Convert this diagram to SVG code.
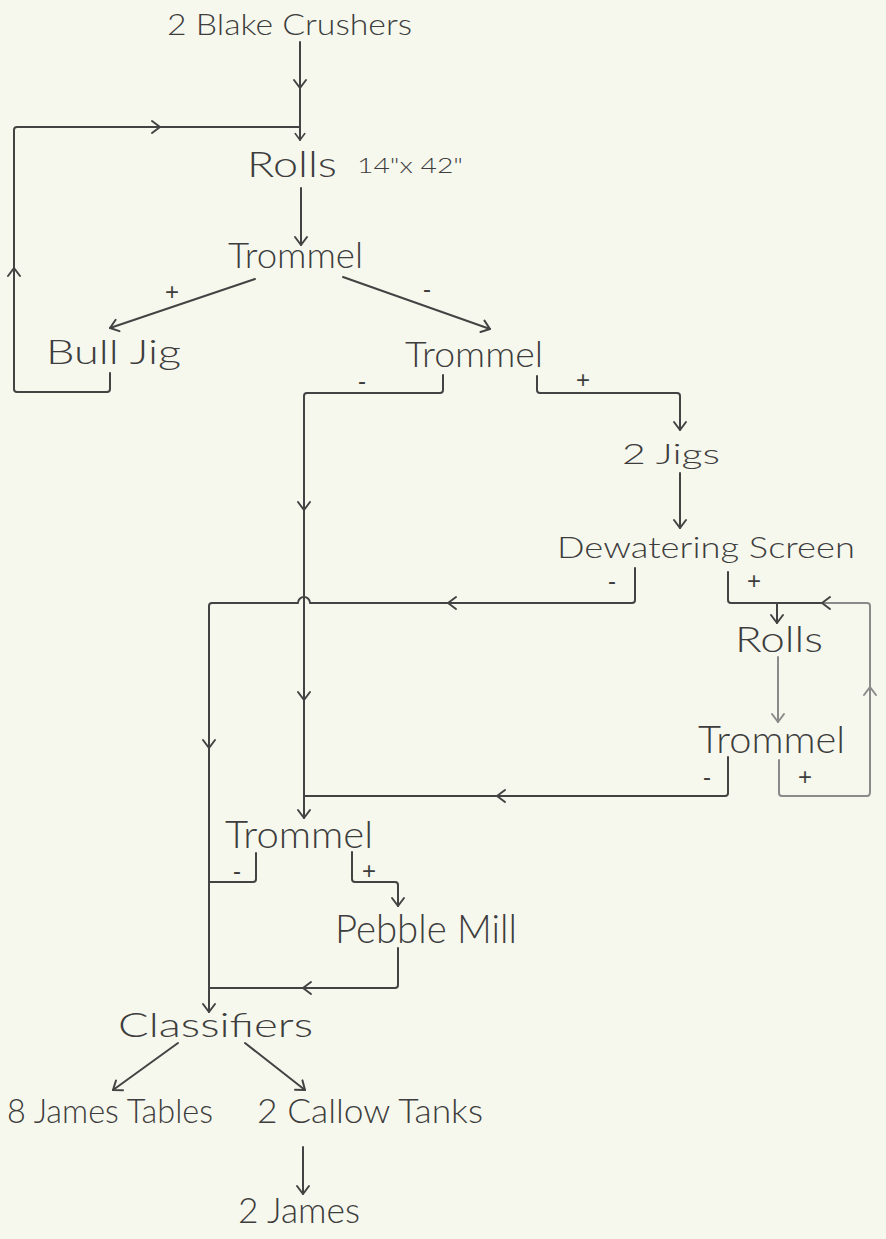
<svg xmlns="http://www.w3.org/2000/svg" xmlns:xlink="http://www.w3.org/1999/xlink" width="886" height="1239" viewBox="0 0 886 1239">
<style>
.lbl{font-family:"Lato","Liberation Sans","DejaVu Sans",sans-serif;font-weight:300;fill:#3d3d3d}
.sg{font-family:"Liberation Sans","DejaVu Sans",sans-serif;font-size:24px;fill:#3d3d3d;text-anchor:middle}
.ln{fill:none;stroke:#434343;stroke-width:2;stroke-linecap:round;stroke-linejoin:round}
.fd{stroke:#8a8a8a}
.hd{fill:none;stroke:#434343;stroke-width:2;stroke-linecap:round;stroke-linejoin:round}
.hf{stroke:#8a8a8a}
</style>
<defs>
<path id="chev" d="M-8,-6 L0,0 L-8,6"/>
</defs>
<rect x="0" y="0" width="886" height="1239" fill="#f7f8ed"/>

<g id="connectors">
  <path class="ln" d="M300,42 V140"/>
  <path class="ln" d="M110,373 V389 Q110,392 107,392 H17 Q14,392 14,389 V130 Q14,127 17,127 H300"/>
  <path class="ln" d="M301,188 V245"/>
  <path class="ln" d="M255,279 L110,328"/>
  <path class="ln" d="M343,277 L490,329"/>
  <path class="ln" d="M443,375 V390 Q443,393 440,393 H307 Q304,393 304,396 V818"/>
  <path class="ln" d="M537,376 V390 Q537,393 540,393 H677 Q680,393 680,396 V430"/>
  <path class="ln" d="M680,473 V528"/>
  <path class="ln" d="M635,568 V600 Q635,603 632,603 H310 A6,6 0 0 0 298,603 H212 Q209,603 209,606 V1012"/>
  <path class="ln" d="M728,572 V600 Q728,603 731,603 H822"/>
  <path class="ln fd" d="M822,603 H867 Q870,603 870,606 V792 Q870,796 867,796 H782 Q779,796 779,793 V760"/>
  <path class="ln" d="M777,603 V623"/>
  <path class="ln fd" d="M778,657 V722"/>
  <path class="ln" d="M728,757 V793 Q728,796 725,796 H304"/>
  <path class="ln" d="M256,853 V879 Q256,882 253,882 H209"/>
  <path class="ln" d="M352,852 V879 Q352,882 355,882 H395 Q398,882 398,885 V906"/>
  <path class="ln" d="M398,948 V985 Q398,988 395,988 H209"/>
  <path class="ln" d="M178,1043 L113,1090"/>
  <path class="ln" d="M245,1043 L305,1090"/>
  <path class="ln" d="M303,1147 V1194"/>

  <use class="hd" xlink:href="#chev" transform="translate(300,88) rotate(90)"/>
  <use class="hd" xlink:href="#chev" transform="translate(300,140) rotate(90) scale(0.8)"/>
  <use class="hd" xlink:href="#chev" transform="translate(14,268) rotate(-90)"/>
  <use class="hd" xlink:href="#chev" transform="translate(160,127)"/>
  <use class="hd" xlink:href="#chev" transform="translate(301,245) rotate(90)"/>
  <use class="hd" xlink:href="#chev" transform="translate(110,328) rotate(161.3)"/>
  <use class="hd" xlink:href="#chev" transform="translate(490,329) rotate(19.5)"/>
  <use class="hd" xlink:href="#chev" transform="translate(304,510) rotate(90)"/>
  <use class="hd" xlink:href="#chev" transform="translate(304,700) rotate(90)"/>
  <use class="hd" xlink:href="#chev" transform="translate(304,818) rotate(90)"/>
  <use class="hd" xlink:href="#chev" transform="translate(680,430) rotate(90)"/>
  <use class="hd" xlink:href="#chev" transform="translate(680,528) rotate(90)"/>
  <use class="hd" xlink:href="#chev" transform="translate(448,603) rotate(180)"/>
  <use class="hd" xlink:href="#chev" transform="translate(209,748) rotate(90)"/>
  <use class="hd" xlink:href="#chev" transform="translate(209,1012) rotate(90)"/>
  <use class="hd" xlink:href="#chev" transform="translate(822,603) rotate(180)"/>
  <use class="hd hf" xlink:href="#chev" transform="translate(870,687) rotate(-90)"/>
  <use class="hd" xlink:href="#chev" transform="translate(777,623) rotate(90)"/>
  <use class="hd hf" xlink:href="#chev" transform="translate(778,722) rotate(90)"/>
  <use class="hd" xlink:href="#chev" transform="translate(497,796) rotate(180)"/>
  <use class="hd" xlink:href="#chev" transform="translate(398,906) rotate(90)"/>
  <use class="hd" xlink:href="#chev" transform="translate(303,988) rotate(180)"/>
  <use class="hd" xlink:href="#chev" transform="translate(113,1090) rotate(144.1)"/>
  <use class="hd" xlink:href="#chev" transform="translate(305,1090) rotate(38.1)"/>
  <use class="hd" xlink:href="#chev" transform="translate(303,1194) rotate(90)"/>

  <text class="sg" x="172" y="300">+</text>
  <text class="sg" x="427" y="297">-</text>
  <text class="sg" x="362" y="389">-</text>
  <text class="sg" x="583" y="388">+</text>
  <text class="sg" x="612" y="589">-</text>
  <text class="sg" x="754" y="589">+</text>
  <text class="sg" x="707" y="785">-</text>
  <text class="sg" x="805" y="785">+</text>
  <text class="sg" x="237" y="879">-</text>
  <text class="sg" x="369" y="879">+</text>
</g>

<g id="crushers"><text class="lbl" x="167" y="35" font-size="30" textLength="245" lengthAdjust="spacingAndGlyphs">2 Blake Crushers</text></g>
<g id="rolls1"><text class="lbl" x="247" y="177" font-size="36" textLength="90" lengthAdjust="spacingAndGlyphs">Rolls</text><text class="lbl" x="357" y="173" font-size="22" textLength="106" lengthAdjust="spacingAndGlyphs">14"x 42"</text></g>
<g id="trommel1"><text class="lbl" x="228" y="268" font-size="36" textLength="135" lengthAdjust="spacingAndGlyphs">Trommel</text></g>
<g id="bulljig"><text class="lbl" x="46" y="364" font-size="34" textLength="135" lengthAdjust="spacingAndGlyphs">Bull Jig</text></g>
<g id="trommel2"><text class="lbl" x="405" y="367" font-size="36" textLength="138" lengthAdjust="spacingAndGlyphs">Trommel</text></g>
<g id="jigs"><text class="lbl" x="622" y="464" font-size="28" textLength="98" lengthAdjust="spacingAndGlyphs">2 Jigs</text></g>
<g id="dewatering"><text class="lbl" x="557" y="558" font-size="30" textLength="298" lengthAdjust="spacingAndGlyphs">Dewatering Screen</text></g>
<g id="rolls2"><text class="lbl" x="735" y="652" font-size="36" textLength="88" lengthAdjust="spacingAndGlyphs">Rolls</text></g>
<g id="trommel4"><text class="lbl" x="698" y="753" font-size="38" textLength="147" lengthAdjust="spacingAndGlyphs">Trommel</text></g>
<g id="trommel3"><text class="lbl" x="225" y="848" font-size="38" textLength="148" lengthAdjust="spacingAndGlyphs">Trommel</text></g>
<g id="pebblemill"><text class="lbl" x="335" y="943" font-size="40" textLength="182" lengthAdjust="spacingAndGlyphs">Pebble Mill</text></g>
<g id="classifiers"><text class="lbl" x="118" y="1037" font-size="34" textLength="195" lengthAdjust="spacingAndGlyphs">Classifiers</text></g>
<g id="jamestables"><text class="lbl" x="7" y="1123" font-size="34" textLength="206" lengthAdjust="spacingAndGlyphs">8 James Tables</text></g>
<g id="callow"><text class="lbl" x="257" y="1123" font-size="34" textLength="226" lengthAdjust="spacingAndGlyphs">2 Callow Tanks</text></g>
<g id="james2"><text class="lbl" x="238" y="1223" font-size="36" textLength="122" lengthAdjust="spacingAndGlyphs">2 James</text></g>
</svg>
